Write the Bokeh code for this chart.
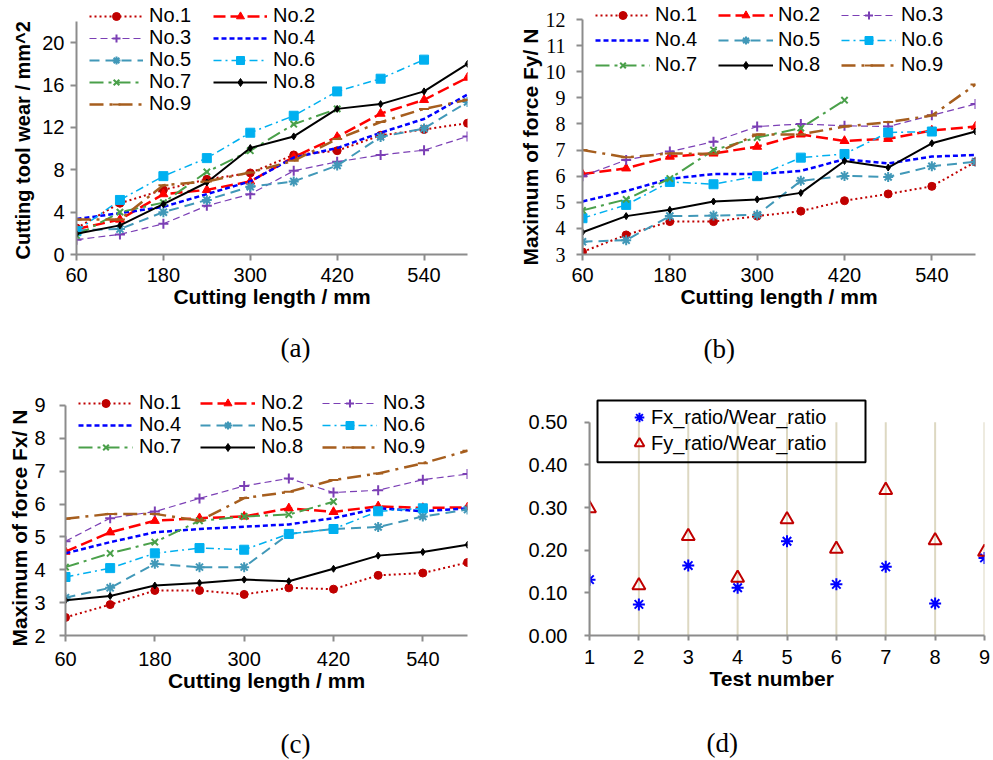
from bokeh.plotting import figure
from bokeh.layouts import column, row
from bokeh.models import (Range1d, Legend, LegendItem, FixedTicker, Title,
                          NumeralTickFormatter, BoxAnnotation)
from bokeh.embed import file_html
from bokeh.resources import INLINE

SANS = "Liberation Sans"
SERIF = "Liberation Serif"
AXIS_GREY = "#8C8C8C"

# ---------------- data ----------------
cutting_length = [60, 120, 180, 240, 300, 360, 420, 480, 540, 600]
length_ticks = [60, 180, 300, 420, 540]
series_names = ["No.1", "No.2", "No.3", "No.4", "No.5", "No.6", "No.7", "No.8", "No.9"]

# (a) cutting tool wear / mm^2
wear_no1 = [2.5, 4.84, 6.1, 7.1, 7.7, 9.4, 9.8, 11.25, 11.8, 12.4]
wear_no2 = [2.4, 3.3, 5.7, 6.1, 6.9, 9.2, 11.1, 13.3, 14.6, 16.7]
wear_no3 = [1.4, 1.9, 2.9, 4.6, 5.7, 7.9, 8.75, 9.4, 9.85, 11.15]
wear_no4 = [3.35, 3.9, 4.5, 5.7, 6.9, 9.15, 10.05, 11.5, 12.8, 15.1]
wear_no5 = [2.3, 2.4, 4.0, 5.15, 6.4, 6.9, 8.4, 11.1, 11.9, 14.4]
wear_no6 = [2.2, 5.15, 7.4, 9.1, 11.5, 13.1, 15.4, 16.6, 18.4]
wear_no7 = [1.8, 4.0, 4.9, 7.8, 9.8, 12.3, 13.75]
wear_no8 = [1.95, 2.75, 4.75, 6.8, 10.05, 11.15, 13.75, 14.2, 15.4, 18.0]
wear_no9 = [3.3, 3.3, 6.55, 6.9, 7.75, 8.85, 10.9, 12.5, 13.75, 14.6]
wear_ticks = [0, 4, 8, 12, 16, 20]
wear_axis = (0, 22)

# (b) maximum of force Fy / N
fy_no1 = [3.1, 3.75, 4.26, 4.26, 4.47, 4.66, 5.06, 5.32, 5.61, 6.55]
fy_no2 = [6.08, 6.3, 6.75, 6.87, 7.13, 7.6, 7.35, 7.43, 7.75, 7.9]
fy_no3 = [6.0, 6.62, 6.94, 7.32, 7.9, 8.0, 7.93, 7.9, 8.33, 8.76]
fy_no4 = [5.03, 5.43, 5.9, 6.08, 6.08, 6.2, 6.65, 6.49, 6.75, 6.81]
fy_no5 = [3.49, 3.55, 4.47, 4.49, 4.52, 5.82, 6.01, 5.97, 6.38, 6.55]
fy_no6 = [4.39, 4.9, 5.78, 5.69, 6.0, 6.71, 6.85, 7.67, 7.71]
fy_no7 = [4.69, 5.11, 5.91, 7.0, 7.48, 7.84, 8.91]
fy_no8 = [3.85, 4.47, 4.71, 5.03, 5.11, 5.36, 6.58, 6.33, 7.26, 7.71]
fy_no9 = [7.0, 6.72, 6.87, 6.85, 7.6, 7.6, 7.9, 8.07, 8.32, 9.51]
fy_ticks = [3, 4, 5, 6, 7, 8, 9, 10, 11, 12]
fy_axis = (3, 12)

# (c) maximum of force Fx / N
fx_no1 = [2.55, 2.94, 3.37, 3.37, 3.25, 3.45, 3.41, 3.83, 3.9, 4.22]
fx_no2 = [4.55, 5.14, 5.49, 5.57, 5.62, 5.87, 5.76, 5.93, 5.88, 5.9]
fx_no3 = [4.87, 5.57, 5.77, 6.17, 6.55, 6.78, 6.35, 6.42, 6.74, 6.91]
fx_no4 = [4.5, 4.84, 5.14, 5.24, 5.31, 5.38, 5.57, 5.87, 5.78, 5.87]
fx_no5 = [3.15, 3.45, 4.18, 4.08, 4.08, 5.09, 5.24, 5.3, 5.62, 5.83]
fx_no6 = [3.78, 4.05, 4.5, 4.66, 4.61, 5.09, 5.24, 5.78, 5.87]
fx_no7 = [4.08, 4.5, 4.84, 5.49, 5.62, 5.68, 6.07]
fx_no8 = [3.07, 3.2, 3.52, 3.6, 3.7, 3.65, 4.03, 4.43, 4.54, 4.76]
fx_no9 = [5.55, 5.7, 5.7, 5.49, 6.18, 6.37, 6.73, 6.93, 7.24, 7.62]
fx_ticks = [2, 3, 4, 5, 6, 7, 8, 9]
fx_axis = (2, 9)

# (d) ratios per test
test_number = [1, 2, 3, 4, 5, 6, 7, 8, 9]
fx_ratio_wear = [0.131, 0.073, 0.164, 0.112, 0.221, 0.120, 0.161, 0.075, 0.182]
fy_ratio_wear = [0.298, 0.117, 0.233, 0.135, 0.272, 0.203, 0.341, 0.223, 0.196]
ratio_ticks = [0.0, 0.1, 0.2, 0.3, 0.4, 0.5]

wear_series = [wear_no1, wear_no2, wear_no3, wear_no4, wear_no5, wear_no6, wear_no7, wear_no8, wear_no9]
fy_series = [fy_no1, fy_no2, fy_no3, fy_no4, fy_no5, fy_no6, fy_no7, fy_no8, fy_no9]
fx_series = [fx_no1, fx_no2, fx_no3, fx_no4, fx_no5, fx_no6, fx_no7, fx_no8, fx_no9]

# ---------------- styles ----------------
STYLE = {
    "No.1": dict(color="#C00000", dash="2 3", lw=2.0, marker="circle", size=8),
    "No.2": dict(color="#FF0000", dash="12 5", lw=2.5, marker="triangle", size=9),
    "No.3": dict(color="#7B3FB5", dash="7 4", lw=1.2, marker="cross", size=10),
    "No.4": dict(color="#0000FF", dash="5 3", lw=2.5, marker=None, size=0),
    "No.5": dict(color="#4198B8", dash="10 6", lw=2.0, marker="asterisk", size=10),
    "No.6": dict(color="#00B0F0", dash="8 4 2 4", lw=1.5, marker="square", size=9),
    "No.7": dict(color="#4AA04A", dash="14 5 3 5", lw=2.0, marker="x", size=9),
    "No.8": dict(color="#000000", dash="solid", lw=2.0, marker="diamond", size=7),
    "No.9": dict(color="#A65E1E", dash="14 6 3 6", lw=2.5, marker="dash", size=10),
}

# figures in one row share top / bottom borders
ROW1_T, ROW1_B = 0, 126
ROW2_T, ROW2_B = 2, 124


def style_axis(ax, label_font, standoff, label_standoff, tick_out=6):
    ax.axis_line_color = AXIS_GREY
    ax.axis_line_width = 2
    ax.major_tick_line_color = AXIS_GREY
    ax.major_tick_line_width = 2
    ax.major_tick_out = tick_out
    ax.major_tick_in = 0
    ax.minor_tick_line_color = None
    ax.major_label_text_font = label_font
    ax.major_label_text_font_size = "20px"
    ax.major_label_text_color = "#000000"
    ax.major_label_standoff = standoff
    ax.axis_label_text_font = SANS
    ax.axis_label_text_font_style = "bold"
    ax.axis_label_text_font_size = "21px"
    ax.axis_label_text_color = "#000000"
    ax.axis_label_standoff = label_standoff


def base_fig(W, H, L, R, T, B, xr, yr):
    p = figure(width=W, height=H, x_range=xr, y_range=yr,
               output_backend="svg", toolbar_location=None,
               min_border_left=L, min_border_right=R,
               min_border_top=T, min_border_bottom=B)
    p.outline_line_color = None
    p.xgrid.grid_line_color = None
    p.ygrid.grid_line_color = None
    p.background_fill_color = "white"
    p.border_fill_color = "white"
    return p


def extended_top(axis_lim, axis_px, frame_px):
    lo, hi = axis_lim
    return lo + (hi - lo) * frame_px / axis_px


def add_tag(p, text, offset, pad_top):
    t = Title(text=text, align="left", offset=offset, standoff=0,
              vertical_align="top",
              padding=dict(top=pad_top, bottom=0, left=0, right=0),
              text_font=SERIF, text_font_size="27px", text_font_style="normal",
              text_color="#000000")
    p.add_layout(t, "below")


def add_ytitle(p, text, font_px, bottom_offset, standoff):
    t = Title(text=text, align="left", offset=bottom_offset, standoff=standoff,
              vertical_align="middle",
              text_font=SANS, text_font_size=f"{font_px}px", text_font_style="bold",
              text_color="#000000")
    p.add_layout(t, "left")


def line_panel(series, axis_lim, axis_px, y_ticks, y_title, size, y_font, y_standoff,
               x_standoff, leg, tag, tag_offset, tag_pad, ytitle_geom):
    W, H, L, R, T, B = size
    frame_px = H - T - B
    y_hi = extended_top(axis_lim, axis_px, frame_px)
    p = base_fig(W, H, L, R, T, B, Range1d(60, 600), Range1d(axis_lim[0], y_hi))
    p.xaxis.ticker = FixedTicker(ticks=length_ticks)
    p.yaxis.ticker = FixedTicker(ticks=y_ticks)
    p.yaxis.bounds = axis_lim
    p.xaxis.axis_label = "Cutting length / mm"
    style_axis(p.xaxis[0], SANS, x_standoff, 0)
    style_axis(p.yaxis[0], y_font, y_standoff, 0)
    add_ytitle(p, y_title, *ytitle_geom)

    rends = {}
    for name, vals in zip(series_names, series):
        st = STYLE[name]
        xs = cutting_length[:len(vals)]
        rl = p.line(xs, vals, line_color=st["color"], line_width=st["lw"],
                    line_dash=st["dash"])
        rs = [rl]
        if st["marker"]:
            m = p.scatter(xs, vals, marker=st["marker"], size=st["size"],
                          fill_color=st["color"], line_color=st["color"],
                          line_width=2 if st["marker"] in ("cross", "x", "asterisk", "dash") else 1)
            rs.append(m)
        rends[name] = rs

    for row_names, center in zip(leg["rows"], leg["centers"]):
        items = [LegendItem(label=n, renderers=rends[n]) for n in row_names]
        vy = H - B - center - 10
        lg = Legend(items=items, location=(leg["vx"], vy), orientation="horizontal",
                    padding=0, margin=0, spacing=0,
                    glyph_width=leg["gw"], glyph_height=20,
                    label_standoff=leg["ls"], label_width=leg["lw"], label_height=20,
                    label_text_font=SANS, label_text_font_size="20px",
                    label_text_color="#000000",
                    border_line_color=None, background_fill_alpha=0)
        p.add_layout(lg)
    add_tag(p, tag, tag_offset, tag_pad)
    return p


# (a)
pa = line_panel(
    wear_series, wear_axis, 233, wear_ticks, "Cutting tool wear / mm^2",
    (496, 380, 76, 29, ROW1_T, ROW1_B), SANS, 6, 7,
    dict(rows=[["No.1", "No.2"], ["No.3", "No.4"], ["No.5", "No.6"], ["No.7", "No.8"], ["No.9"]],
         centers=[17, 39, 61, 83, 105], vx=13, gw=54, ls=6, lw=64),
    "(a)", 204, 22, (20, -5, 10))

# (b)
pb = line_panel(
    fy_series, fy_axis, 235, fy_ticks, "Maximum of force Fy/ N",
    (497, 380, 86, 18, ROW1_T, ROW1_B), SERIF, 11, 7,
    dict(rows=[["No.1", "No.2", "No.3"], ["No.4", "No.5", "No.6"], ["No.7", "No.8", "No.9"]],
         centers=[16, 41, 66], vx=13, gw=55, ls=5, lw=63),
    "(b)", 121, 23, (21, -11, 0))

# (c)
pc = line_panel(
    fx_series, fx_axis, 231, fx_ticks, "Maximum of force Fx/ N",
    (496, 380, 65, 29, ROW2_T, ROW2_B), SANS, 14, 10,
    dict(rows=[["No.1", "No.2", "No.3"], ["No.4", "No.5", "No.6"], ["No.7", "No.8", "No.9"]],
         centers=[25, 47, 69], vx=13, gw=55, ls=6, lw=61),
    "(c)", 215, 34, (21, -11, 0))

# (d)
D_W, D_H, D_L, D_R, D_T, D_B = 497, 380, 93, 9, ROW2_T, ROW2_B
D_AXIS_PX = 214
d_frame_px = D_H - D_T - D_B
d_top = extended_top((ratio_ticks[0], ratio_ticks[-1]), D_AXIS_PX, d_frame_px)
pd_ = base_fig(D_W, D_H, D_L, D_R, D_T, D_B, Range1d(1, 9), Range1d(0, d_top))
pd_.xaxis.ticker = FixedTicker(ticks=test_number)
pd_.yaxis.ticker = FixedTicker(ticks=ratio_ticks)
pd_.yaxis.bounds = (ratio_ticks[0], ratio_ticks[-1])
pd_.yaxis.formatter = NumeralTickFormatter(format="0.00")
style_axis(pd_.xaxis[0], SANS, 9, 0, tick_out=5)
style_axis(pd_.yaxis[0], SANS, 17, 0, tick_out=5)

# x-axis title placed as a below-title so it can sit slightly left of centre
x_title_d = Title(text="Test number", align="left", offset=120, standoff=0,
                  vertical_align="top", text_font=SANS, text_font_size="21px",
                  text_font_style="bold", text_color="#000000")
pd_.add_layout(x_title_d, "below")

# vertical guide lines at each test number, from 0.00 to 0.50
pd_.segment(x0=test_number, y0=[ratio_ticks[0]] * len(test_number),
            x1=test_number, y1=[ratio_ticks[-1]] * len(test_number),
            line_color="#DDD8C2", line_width=2)

r_fx = pd_.scatter(test_number, fx_ratio_wear, marker="asterisk", size=12,
                   line_color="#0000FF", line_width=2)
r_fy = pd_.scatter(test_number, fy_ratio_wear, marker="triangle", size=13,
                   fill_color=None, line_color="#C00000", line_width=2)

# legend frame (transparent box with black border)
d_px_per_unit = D_AXIS_PX / (ratio_ticks[-1] - ratio_ticks[0])
d_px_per_test = (D_W - D_L - D_R) / (test_number[-1] - test_number[0])
legend_box = BoxAnnotation(left=1 + 8 / d_px_per_test, right=1 + 276 / d_px_per_test,
                           bottom=174 / d_px_per_unit, top=236 / d_px_per_unit,
                           fill_alpha=0, line_color="#000000", line_width=2, line_alpha=1)
pd_.add_layout(legend_box)

lg_d = Legend(items=[LegendItem(label="Fx_ratio/Wear_ratio", renderers=[r_fx]),
                     LegendItem(label="Fy_ratio/Wear_ratio", renderers=[r_fy])],
              location=(38, 180), orientation="vertical", padding=0, spacing=2, margin=0,
              glyph_width=24, glyph_height=24, label_height=24,
              label_standoff=0,
              label_text_font=SANS, label_text_font_size="20px", label_text_color="#000000",
              border_line_color=None, background_fill_alpha=0)
pd_.add_layout(lg_d)
add_tag(pd_, "(d)", 117, 36)

layout = column(row(pa, pb), row(pc, pd_))

with open("out.html", "w") as f:
    f.write(file_html(layout, INLINE, title="Cutting tool wear and forces"))
